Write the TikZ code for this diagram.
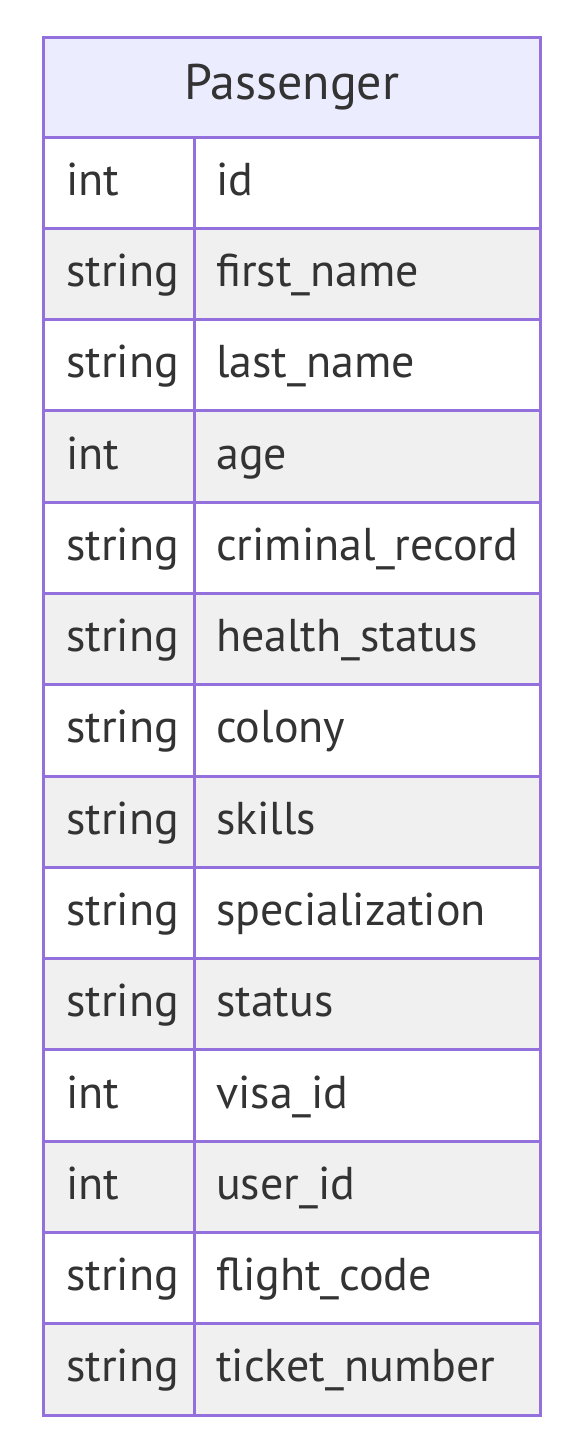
\documentclass[tikz,border=0pt]{standalone}
\usepackage{fontspec}
\setmainfont{PT Sans}
\definecolor{edge}{HTML}{9370DB}
\definecolor{headfill}{HTML}{ECECFF}
\definecolor{oddfill}{HTML}{F0F0F0}
\definecolor{ink}{HTML}{333333}
\begin{document}
\begin{tikzpicture}[x=1pt,y=-1pt,
  cell/.style={draw=edge,line width=3pt,rectangle,inner sep=0pt,outer sep=0pt,anchor=north west},
  txt/.style={text=ink,font=\fontsize{46}{48}\selectfont,anchor=base west,inner sep=0pt}]
\useasboundingbox (0,0) rectangle (576,1440);
% header
\node[cell,fill=headfill,minimum width=496.5pt,minimum height=99.5pt] (head) at (43.5,37.5) {};
\node[text=ink,font=\fontsize{50}{52}\selectfont,anchor=base,inner sep=0pt] (title) at ([yshift=-12.7pt]head.center) {Passenger};
% attribute rows
\foreach [count=\i from 0] \t/\n in {int/id,string/first\_name,string/last\_name,int/age,
  string/criminal\_record,string/health\_status,string/colony,string/skills,
  string/specialization,string/status,int/visa\_id,int/user\_id,
  string/flight\_code,string/ticket\_number}{
  \pgfmathsetmacro{\top}{137+91.29*\i}
  \pgfmathtruncatemacro{\odd}{mod(\i,2)}
  \ifnum\odd=1 \def\fc{oddfill}\else\def\fc{white}\fi
  \node[cell,fill=\fc,minimum width=150.5pt,minimum height=91.29pt] (type\i) at (43.5,\top) {};
  \node[cell,fill=\fc,minimum width=346pt,minimum height=91.29pt] (name\i) at (194,\top) {};
  \node[txt] (typetext\i) at ([xshift=22.5pt,yshift=-12.5pt]type\i.west) {\t};
  \node[txt] (nametext\i) at ([xshift=22pt,yshift=-12.5pt]name\i.west) {\n};
}
\end{tikzpicture}
\end{document}
